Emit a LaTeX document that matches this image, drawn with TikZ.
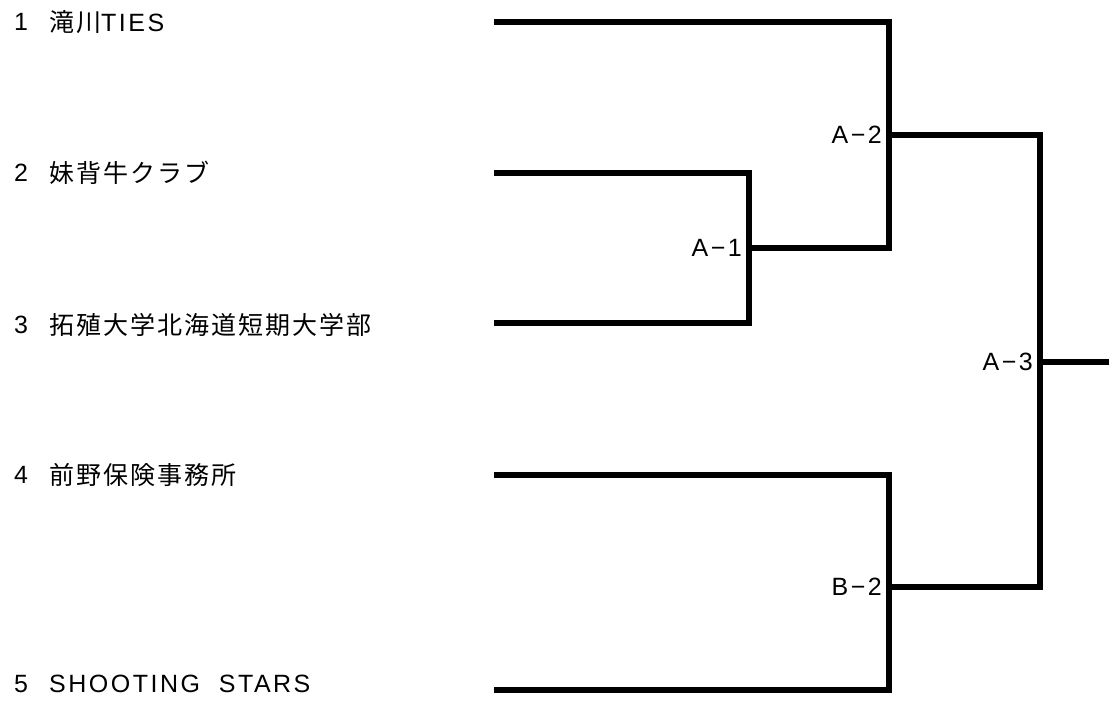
\documentclass[tikz,border=0pt]{standalone}
\usepackage{fontspec}
\setmainfont{Liberation Sans}[LetterSpace=10]
\newfontfamily\jp{Noto Sans CJK JP}[LetterSpace=8]
\usetikzlibrary{positioning}
\tikzset{
x=1pt, y=-1pt, % one unit is one pixel of the sheet
bracket/.style={line width=5.6pt, line join=miter, line cap=rect}, % the bracket lines
team/.style={anchor=west, inner sep=0pt, font=\fontsize{25}{30}\selectfont}, % team names
seed/.style={anchor=west, inner sep=0pt, font=\fontsize{25}{30}\selectfont}, % the numbers
match/.style={inner sep=0pt, node distance=7pt, font=\fontsize{25}{30}\selectfont}, % match labels
}

\begin{document}
\begin{tikzpicture}
    \useasboundingbox (0,0) rectangle (1109,704);
    % entries
    \node[seed] (n1) at (14,22) {1};
    \node[team] (t1) at (49,22) {{\jp 滝川}TIES};
    \node[seed] (n2) at (14,173) {2};
    \node[team] (t2) at (49,173) {\jp 妹背牛クラブ};
    \node[seed] (n3) at (14,325) {3};
    \node[team] (t3) at (49,325) {\jp 拓殖大学北海道短期大学部};
    \node[seed] (n4) at (14,475) {4};
    \node[team] (t4) at (49,475) {\jp 前野保険事務所};
    \node[seed] (n5) at (14,684) {5};
    \node[team] (t5) at (49,684) {SHOOTING\ \ STARS};
    % where the lines start
    \coordinate (s1) at (497,22);
    \coordinate (s2) at (497,173);
    \coordinate (s3) at (497,323);
    \coordinate (s4) at (497,475);
    \coordinate (s5) at (497,690);
    % junctions
    \coordinate (j1) at (749,248);
    \coordinate (j2) at (889,135);
    \coordinate (j3) at (1040,362);
    \coordinate (jb) at (889,587);
    \coordinate (win) at (1112,362);
    \node[match, left=of j1] (a1) {A−1};
    \node[match, left=of j2] (a2) {A−2};
    \node[match, left=of j3] (a3) {A−3};
    \node[match, left=of jb] (b2) {B−2};
    % bracket
    \draw[bracket] (s2) -| (j1) |- (s3);
    \draw[bracket] (s1) -| (j2) |- (j1);
    \draw[bracket] (s4) -| (jb) |- (s5);
    \draw[bracket] (j2) -| (j3) |- (jb);
    \draw[bracket] (j3) -- (win);
\end{tikzpicture}
\end{document}
